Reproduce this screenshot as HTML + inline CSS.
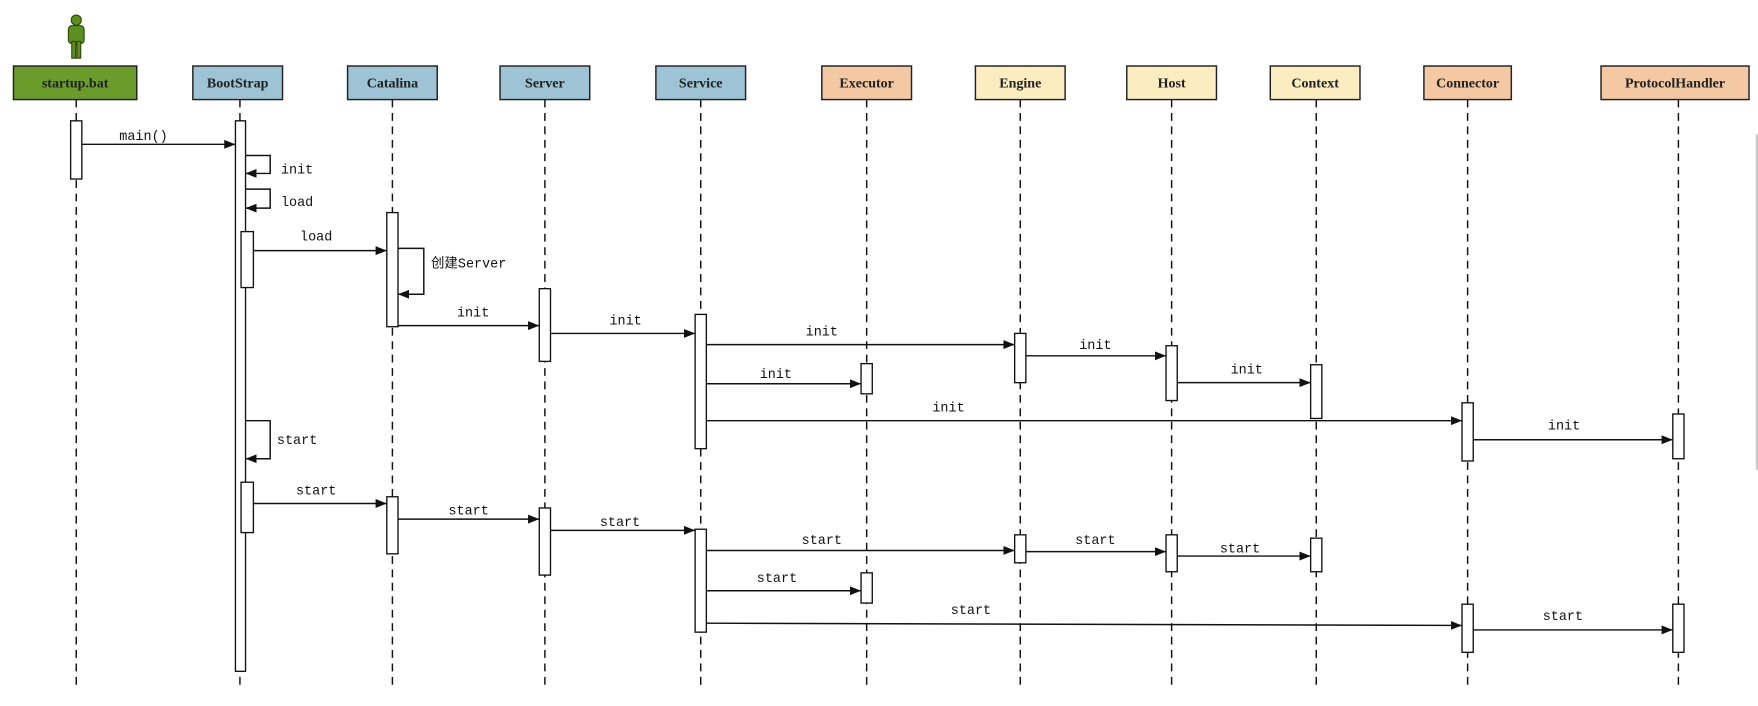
<!DOCTYPE html>
<html><head><meta charset="utf-8"><style>
html,body{margin:0;padding:0;background:#fff;width:1758px;height:706px;overflow:hidden}
svg{display:block}
.h{font-family:"Liberation Serif","Noto Serif CJK SC",serif;font-weight:bold;font-size:12.5px;text-anchor:middle;fill:#222}
.l{font-family:"Liberation Mono","Noto Sans CJK SC",monospace;font-size:12px;fill:#111;text-anchor:middle}
.ll{stroke:#111;stroke-width:1.3;stroke-dasharray:7,5}
.a{fill:#fff;stroke:#111;stroke-width:1.2}
.m{stroke:#111;stroke-width:1.3;fill:none;marker-end:url(#ar)}
</style></head><body>
<svg width="1758" height="706" viewBox="0 0 1568 631" preserveAspectRatio="none" xmlns="http://www.w3.org/2000/svg">
<defs><marker id="ar" markerWidth="10" markerHeight="8" refX="10" refY="4" orient="auto" markerUnits="userSpaceOnUse"><path d="M0,0 L10,4 L0,8 z" fill="#111"/></marker></defs>
<rect x="1566" y="120" width="2" height="300" fill="#ccc"/>
<!-- actor -->
<g fill="#5e8f1e" stroke="#2d4a0a" stroke-width="1">
<circle cx="68" cy="18" r="4.5"/>
<rect x="61" y="23" width="14" height="16" rx="3"/>
<rect x="64" y="37" width="3.5" height="15"/><rect x="68.5" y="37" width="3.5" height="15"/>
</g>
<!-- lifelines -->
<g class="ll">
<line x1="68" y1="89" x2="68" y2="612"/><line x1="214" y1="89" x2="214" y2="612"/>
<line x1="350" y1="89" x2="350" y2="612"/><line x1="486" y1="89" x2="486" y2="612"/>
<line x1="625" y1="89" x2="625" y2="612"/><line x1="773" y1="89" x2="773" y2="612"/>
<line x1="910" y1="89" x2="910" y2="612"/><line x1="1045" y1="89" x2="1045" y2="612"/>
<line x1="1174" y1="89" x2="1174" y2="612"/><line x1="1309" y1="89" x2="1309" y2="612"/>
<line x1="1497" y1="89" x2="1497" y2="612"/>
</g>
<!-- headers -->
<g stroke="#222" stroke-width="1.3">
<rect x="12" y="59" width="110" height="30" fill="#6b9b2b"/>
<rect x="172" y="59" width="80" height="30" fill="#9dc3d4"/>
<rect x="310" y="59" width="80" height="30" fill="#9dc3d4"/>
<rect x="446" y="59" width="80" height="30" fill="#9dc3d4"/>
<rect x="585" y="59" width="80" height="30" fill="#9dc3d4"/>
<rect x="733" y="59" width="80" height="30" fill="#f3c8a3"/>
<rect x="870" y="59" width="80" height="30" fill="#fbedc0"/>
<rect x="1005" y="59" width="80" height="30" fill="#fbedc0"/>
<rect x="1133" y="59" width="80" height="30" fill="#fbedc0"/>
<rect x="1270" y="59" width="78" height="30" fill="#f3c8a3"/>
<rect x="1428" y="59" width="132" height="30" fill="#f3c8a3"/>
</g>
<text class="h" x="67" y="78">startup.bat</text><text class="h" x="212" y="78">BootStrap</text>
<text class="h" x="350" y="78">Catalina</text><text class="h" x="486" y="78">Server</text>
<text class="h" x="625" y="78">Service</text><text class="h" x="773" y="78">Executor</text>
<text class="h" x="910" y="78">Engine</text><text class="h" x="1045" y="78">Host</text>
<text class="h" x="1173" y="78">Context</text><text class="h" x="1309" y="78">Connector</text>
<text class="h" x="1494" y="78">ProtocolHandler</text>
<!-- activations -->
<rect class="a" x="63" y="108" width="10" height="52"/>
<rect class="a" x="210" y="108" width="9" height="492"/>
<rect class="a" x="215" y="207" width="11" height="50"/>
<rect class="a" x="215" y="431" width="11" height="45"/>
<rect class="a" x="345" y="190" width="10" height="102"/>
<rect class="a" x="345" y="444" width="10" height="51"/>
<rect class="a" x="481" y="258" width="10" height="65"/>
<rect class="a" x="481" y="454" width="10" height="60"/>
<rect class="a" x="620" y="281" width="10" height="120"/>
<rect class="a" x="620" y="473" width="10" height="92"/>
<rect class="a" x="768" y="325" width="10" height="27"/>
<rect class="a" x="768" y="512" width="10" height="27"/>
<rect class="a" x="905" y="298" width="10" height="44"/>
<rect class="a" x="905" y="478" width="10" height="25"/>
<rect class="a" x="1040" y="309" width="10" height="49"/>
<rect class="a" x="1040" y="478" width="10" height="33"/>
<rect class="a" x="1169" y="326" width="10" height="48"/>
<rect class="a" x="1169" y="481" width="10" height="30"/>
<rect class="a" x="1304" y="360" width="10" height="52"/>
<rect class="a" x="1304" y="540" width="10" height="43"/>
<rect class="a" x="1492" y="370" width="10" height="40"/>
<rect class="a" x="1492" y="540" width="10" height="43"/>
<!-- messages -->
<path class="m" d="M73,129 H210"/><text class="l" x="128" y="125">main()</text>
<path class="m" d="M219,139 H241 V155 H219"/><text class="l" x="265" y="155">init</text>
<path class="m" d="M219,169 H241 V186 H219"/><text class="l" x="265" y="184">load</text>
<path class="m" d="M226,224 H345"/><text class="l" x="282" y="215">load</text>
<path class="m" d="M355,222 H378 V263 H355"/><text class="l" x="418" y="239">创建Server</text>
<path class="m" d="M355,291 H481"/><text class="l" x="422" y="283">init</text>
<path class="m" d="M491,298 H620"/><text class="l" x="558" y="290">init</text>
<path class="m" d="M630,308 H905"/><text class="l" x="733" y="300">init</text>
<path class="m" d="M630,343 H768"/><text class="l" x="692" y="338">init</text>
<path class="m" d="M915,318 H1040"/><text class="l" x="977" y="312">init</text>
<path class="m" d="M1050,342 H1169"/><text class="l" x="1112" y="334">init</text>
<path class="m" d="M630,376 H1304"/><text class="l" x="846" y="368">init</text>
<path class="m" d="M1314,393 H1492"/><text class="l" x="1395" y="384">init</text>
<path class="m" d="M219,376 H241 V410 H219"/><text class="l" x="265" y="397">start</text>
<path class="m" d="M226,450 H345"/><text class="l" x="282" y="442">start</text>
<path class="m" d="M355,464 H481"/><text class="l" x="418" y="460">start</text>
<path class="m" d="M491,474 H620"/><text class="l" x="553" y="470">start</text>
<path class="m" d="M630,492 H905"/><text class="l" x="733" y="486">start</text>
<path class="m" d="M915,493 H1040"/><text class="l" x="977" y="486">start</text>
<path class="m" d="M1050,497 H1169"/><text class="l" x="1106" y="494">start</text>
<path class="m" d="M630,528 H768"/><text class="l" x="693" y="520">start</text>
<path class="m" d="M630,557 L1304,559"/><text class="l" x="866" y="549">start</text>
<path class="m" d="M1314,563 H1492"/><text class="l" x="1394" y="554">start</text>
</svg>
</body></html>
